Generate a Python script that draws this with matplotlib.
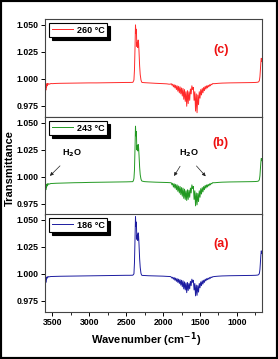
import numpy as np
import matplotlib
matplotlib.use('Agg')
import matplotlib.pyplot as plt
from matplotlib.patches import Rectangle
from matplotlib.ticker import MultipleLocator

plt.rcParams['font.family'] = ['Liberation Sans', 'DejaVu Sans']

# wavenumber grid (cm-1)
wn = ([3600, 3596, 3592, 3588, 3584, 3580, 3575, 3570, 3565, 3560, 3550, 3540, 3520, 3500, 3450, 3400]
      + [3300, 3200, 3100, 3000, 2900, 2800, 2700, 2600, 2500, 2450, 2410, 2400]
      + [2395, 2388, 2380, 2374, 2368, 2362, 2356, 2350, 2344, 2338, 2332, 2326, 2318, 2310, 2300, 2292, 2285]
      + [2250, 2200, 2100, 2000, 1950, 1920, 1900]
      + list(range(1890, 1320, -10))
      + [1300, 1250, 1200, 1150, 1100, 1000, 900, 800, 750, 720, 705, 695, 688, 682, 676, 670, 662])

# 260 C (c)
t260 = ([0.9990, 0.9870, 0.9950, 0.9895, 0.9945, 0.9920, 0.9955, 0.9935, 0.9955, 0.9945, 0.9955, 0.9950, 0.9956, 0.9955, 0.9957, 0.9958]
        + [0.9959, 0.9960, 0.9961, 0.9962, 0.9962, 0.9963, 0.9964, 0.9965, 0.9966, 0.9966, 0.9967, 0.9980]
        + [0.9990, 1.0080, 1.0300, 1.0500, 1.0420, 1.0460, 1.0300, 1.0340, 1.0290, 1.0360, 1.0330, 1.0250, 1.0120, 1.0040, 0.9990, 0.9972, 0.9966]
        + [0.9964, 0.9962, 0.9958, 0.9955, 0.9953, 0.9950, 0.9950]
        + [0.9955, 0.9940, 0.9950, 0.9925, 0.9945, 0.9915, 0.9940, 0.9900, 0.9935, 0.9885,
           0.9930, 0.9870, 0.9925, 0.9860, 0.9915, 0.9840, 0.9910, 0.9810, 0.9900, 0.9790,
           0.9880, 0.9745, 0.9890, 0.9770, 0.9880, 0.9800, 0.9905, 0.9860, 0.9935, 0.9900,
           0.9920, 0.9800, 0.9880, 0.9700, 0.9860, 0.9685, 0.9850, 0.9760, 0.9880, 0.9820,
           0.9900, 0.9850, 0.9910, 0.9870, 0.9920, 0.9890, 0.9930, 0.9905, 0.9935, 0.9915,
           0.9940, 0.9925, 0.9945, 0.9935, 0.9950, 0.9945, 0.9955]
        + [0.9955, 0.9958, 0.9960, 0.9961, 0.9962, 0.9963, 0.9964, 0.9965, 0.9966, 0.9968, 0.9972, 0.9985, 1.0020, 1.0080, 1.0150, 1.0190, 1.0160])

# 243 C (b)
t243 = ([0.9940, 0.9855, 0.9930, 0.9880, 0.9925, 0.9900, 0.9932, 0.9915, 0.9935, 0.9925, 0.9936, 0.9932, 0.9938, 0.9938, 0.9940, 0.9941]
        + [0.9943, 0.9945, 0.9946, 0.9948, 0.9949, 0.9950, 0.9951, 0.9952, 0.9953, 0.9954, 0.9955, 0.9970]
        + [0.9985, 1.0060, 1.0280, 1.0470, 1.0380, 1.0420, 1.0250, 1.0290, 1.0240, 1.0300, 1.0270, 1.0200, 1.0090, 1.0020, 0.9980, 0.9965, 0.9960]
        + [0.9955, 0.9953, 0.9950, 0.9948, 0.9947, 0.9946, 0.9945]
        + [0.9945, 0.9925, 0.9940, 0.9905, 0.9935, 0.9895, 0.9930, 0.9880, 0.9925, 0.9865,
           0.9915, 0.9850, 0.9910, 0.9835, 0.9900, 0.9820, 0.9895, 0.9800, 0.9885, 0.9790,
           0.9870, 0.9780, 0.9880, 0.9790, 0.9875, 0.9810, 0.9895, 0.9850, 0.9925, 0.9890,
           0.9910, 0.9790, 0.9870, 0.9730, 0.9850, 0.9740, 0.9845, 0.9770, 0.9870, 0.9810,
           0.9890, 0.9840, 0.9900, 0.9860, 0.9910, 0.9880, 0.9920, 0.9895, 0.9925, 0.9905,
           0.9930, 0.9915, 0.9935, 0.9925, 0.9940, 0.9935, 0.9945]
        + [0.9945, 0.9948, 0.9950, 0.9951, 0.9952, 0.9953, 0.9954, 0.9955, 0.9956, 0.9958, 0.9962, 0.9975, 1.0010, 1.0070, 1.0130, 1.0170, 1.0150])

# 186 C (a)
t186 = ([0.9975, 0.9905, 0.9960, 0.9920, 0.9965, 0.9945, 0.9970, 0.9960, 0.9972, 0.9968, 0.9974, 0.9972, 0.9975, 0.9975, 0.9976, 0.9977]
        + [0.9978, 0.9979, 0.9980, 0.9981, 0.9982, 0.9983, 0.9984, 0.9985, 0.9986, 0.9986, 0.9987, 0.9995]
        + [1.0000, 1.0100, 1.0340, 1.0530, 1.0440, 1.0480, 1.0320, 1.0360, 1.0310, 1.0380, 1.0350, 1.0270, 1.0140, 1.0060, 1.0005, 0.9990, 0.9985]
        + [0.9984, 0.9982, 0.9980, 0.9978, 0.9976, 0.9975, 0.9974]
        + [0.9970, 0.9960, 0.9968, 0.9950, 0.9965, 0.9940, 0.9960, 0.9930, 0.9955, 0.9920,
           0.9950, 0.9910, 0.9945, 0.9895, 0.9940, 0.9880, 0.9935, 0.9860, 0.9925, 0.9850,
           0.9915, 0.9825, 0.9920, 0.9845, 0.9910, 0.9860, 0.9930, 0.9890, 0.9950, 0.9920,
           0.9940, 0.9850, 0.9910, 0.9795, 0.9895, 0.9800, 0.9890, 0.9830, 0.9910, 0.9870,
           0.9925, 0.9890, 0.9935, 0.9905, 0.9940, 0.9920, 0.9950, 0.9935, 0.9955, 0.9945,
           0.9960, 0.9950, 0.9965, 0.9958, 0.9970, 0.9965, 0.9972]
        + [0.9975, 0.9978, 0.9980, 0.9981, 0.9982, 0.9983, 0.9984, 0.9985, 0.9986, 0.9988, 0.9992, 1.0005, 1.0040, 1.0100, 1.0170, 1.0213, 1.0190])

spectra = [(t260, '#ff2a2a', '260 \u00b0C', '(c)'),
           (t243, '#229922', '243 \u00b0C', '(b)'),
           (t186, '#1c1ca0', '186 \u00b0C', '(a)')]

W, H = 278, 359
fig = plt.figure(figsize=(W/100, H/100), dpi=100)
fig.patches.append(Rectangle((0, 0), 1, 1, transform=fig.transFigure, fill=False,
                             edgecolor='black', linewidth=3, zorder=10))

left, right = 45, 262
tops = [19, 117, 214]
ph = 97.5
axes = []
for i, (t, col, lab, tag) in enumerate(spectra):
    ax = fig.add_axes([left/W, 1 - (tops[i] + ph)/H, (right - left)/W, ph/H])
    ax.plot(wn, t, color=col, lw=0.7)
    ax.set_xlim(3600, 660)
    ax.set_ylim(0.965, 1.0555)
    ax.yaxis.set_major_locator(MultipleLocator(0.025))
    ax.yaxis.set_major_formatter(matplotlib.ticker.FormatStrFormatter('%.3f'))
    ax.xaxis.set_major_locator(MultipleLocator(500))
    ax.xaxis.set_minor_locator(MultipleLocator(250))
    ax.tick_params(axis='y', direction='out', length=3, width=0.7, labelsize=6.3, pad=1.5)
    ax.tick_params(axis='x', which='major', direction='out', length=3, width=0.7, labelsize=6.3, pad=2)
    ax.tick_params(axis='x', which='minor', direction='out', length=2, width=0.6)
    for lbl in ax.get_yticklabels() + ax.get_xticklabels():
        lbl.set_fontweight('bold')
    for s in ax.spines.values():
        s.set_linewidth(0.8)
        s.set_color('#444444')
    if i < 2:
        ax.tick_params(axis='x', which='both', bottom=False, labelbottom=False)
    leg = ax.legend([lab], loc='upper left', bbox_to_anchor=(0.02, 0.955), borderaxespad=0,
                    frameon=True, fancybox=False, edgecolor='black', framealpha=1,
                    shadow={'color': 'black', 'alpha': 1}, handlelength=2.4,
                    handletextpad=0.4, borderpad=0.25, prop={'size': 6.5, 'weight': 'bold'})
    leg.get_frame().set_linewidth(0.8)
    ax.text(0.81, [0.68, 0.73, 0.69][i], tag, transform=ax.transAxes, color='#ee1111',
            fontsize=9, fontweight='bold', ha='center', va='center')
    axes.append(ax)

# H2O annotations on middle panel
axb = axes[1]
arw = dict(arrowstyle='-|>', color='#222222', lw=0.5, mutation_scale=5)
axb.annotate('', xy=(3560, 0.9990), xytext=(3370, 1.0120), arrowprops=arw)
axb.text(3235, 1.0215, 'H$_\\mathbf{2}$O', fontsize=6.5, fontweight='bold', ha='center', va='center')
axb.text(1650, 1.0215, 'H$_\\mathbf{2}$O', fontsize=6.5, fontweight='bold', ha='center', va='center')
axb.annotate('', xy=(1871, 0.9985), xytext=(1750, 1.0120), arrowprops=arw)
axb.annotate('', xy=(1398, 0.9985), xytext=(1573, 1.0120), arrowprops=arw)

fig.text(0.036, 0.532, 'Transmittance', rotation=90, fontsize=8, fontweight='bold',
         ha='center', va='center')
fig.text(0.525, 0.053, 'Wavenumber (cm$^{\\mathbf{-1}}$)', fontsize=8, fontweight='bold',
         ha='center', va='center')

fig.savefig('out.png', dpi=100)
